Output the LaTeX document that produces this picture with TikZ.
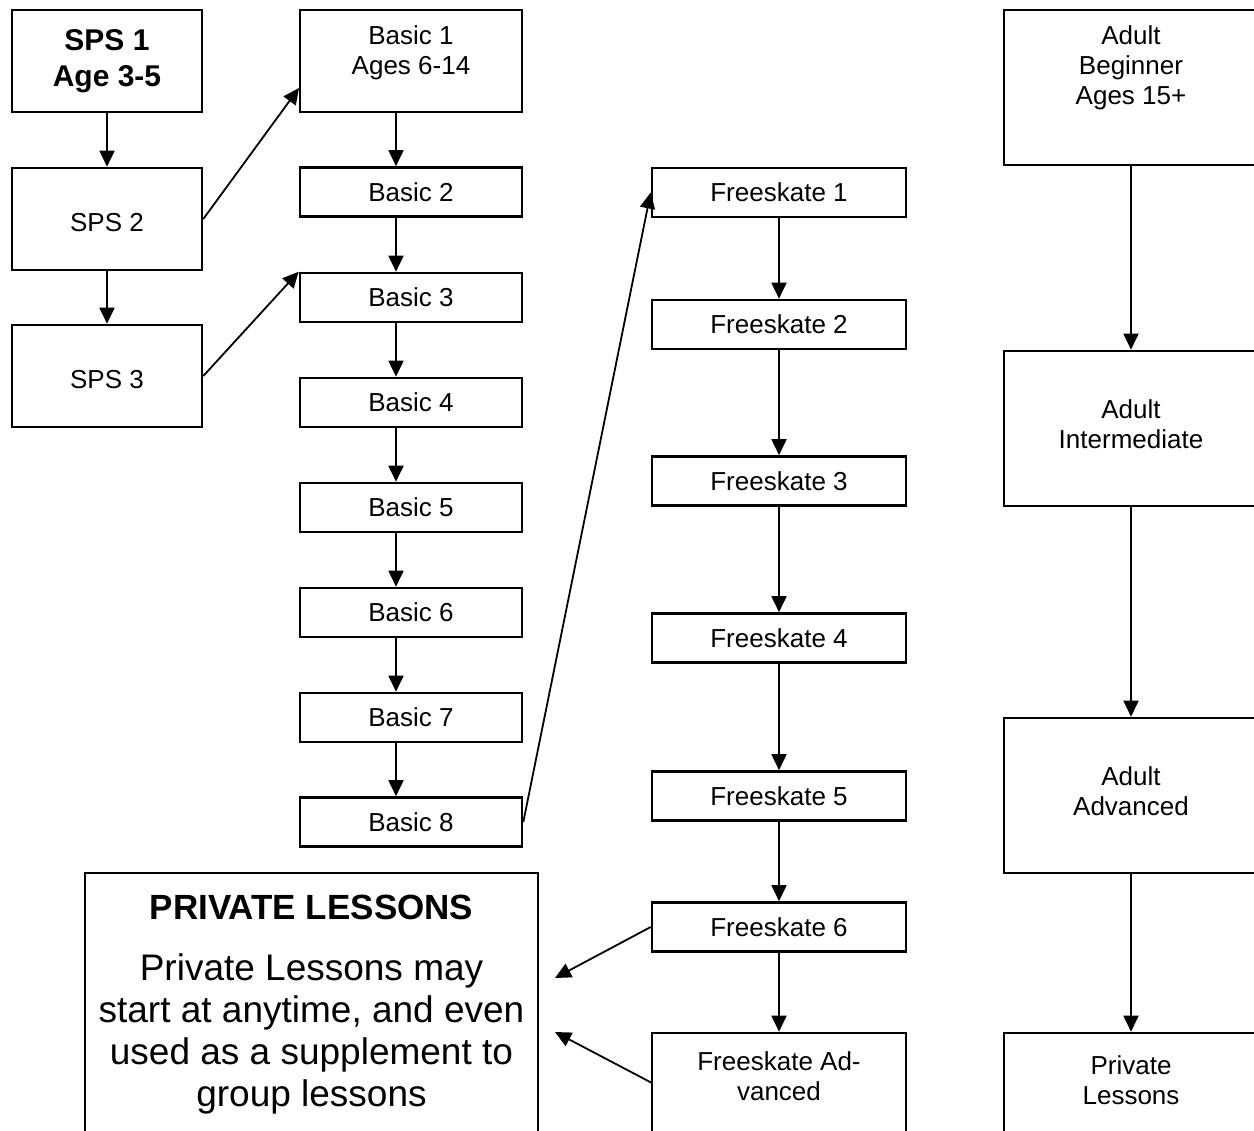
\documentclass[tikz,border=0pt]{standalone}
\usepackage{fontspec}
\setmainfont{Liberation Sans}
\usetikzlibrary{arrows.meta,calc}
\begin{document}
\begin{tikzpicture}[x=1pt,y=-1pt,
  box/.style={draw, line width=2.6pt, rectangle, inner sep=0pt},
  txt/.style={align=center, inner sep=0pt, font=\fontsize{26}{30}\selectfont},
  arr/.style={-{Triangle[length=16pt,width=15pt]}, line width=1.8pt}]
\useasboundingbox (0,0) rectangle (1254,1131);
\clip (0,0) rectangle (1254,1131);
% left column
\node[box, minimum width=190pt, minimum height=102pt] (sps1) at (107,61) {};
\node[txt, font=\fontsize{30}{36}\selectfont\bfseries] (sps1t) at (107,61) {SPS 1\\Age 3-5};
\node[box, minimum width=190pt, minimum height=102pt] (sps2) at (107,219) {};
\node[txt] (sps2t) at (107,223) {SPS 2};
\node[box, minimum width=190pt, minimum height=102pt] (sps3) at (107,376) {};
\node[txt] (sps3t) at (107,380) {SPS 3};
% basic column
\node[box, minimum width=222pt, minimum height=102pt] (b1) at (411,61) {};
\node[txt] (b1t) at (411,53) {Basic 1\\Ages 6-14};
\node[box, txt, minimum width=222pt, minimum height=49pt] (b2) at (411,192) {Basic 2};
\node[box, txt, minimum width=222pt, minimum height=49pt] (b3) at (411,297.5) {Basic 3};
\node[box, txt, minimum width=222pt, minimum height=49pt] (b4) at (411,402.5) {Basic 4};
\node[box, txt, minimum width=222pt, minimum height=49pt] (b5) at (411,507.5) {Basic 5};
\node[box, txt, minimum width=222pt, minimum height=49pt] (b6) at (411,612.5) {Basic 6};
\node[box, txt, minimum width=222pt, minimum height=49pt] (b7) at (411,717.5) {Basic 7};
\node[box, txt, minimum width=222pt, minimum height=49pt] (b8) at (411,822) {Basic 8};
% freeskate column
\node[box, txt, minimum width=254pt, minimum height=49pt] (f1) at (779,192.5) {Freeskate 1};
\node[box, txt, minimum width=254pt, minimum height=49pt] (f2) at (779,324.5) {Freeskate 2};
\node[box, txt, minimum width=254pt, minimum height=49pt] (f3) at (779,481) {Freeskate 3};
\node[box, txt, minimum width=254pt, minimum height=49pt] (f4) at (779,638) {Freeskate 4};
\node[box, txt, minimum width=254pt, minimum height=49pt] (f5) at (779,796) {Freeskate 5};
\node[box, txt, minimum width=254pt, minimum height=49pt] (f6) at (779,927) {Freeskate 6};
\node[box, minimum width=254pt, minimum height=155pt] (fa) at (779,1110.5) {};
\node[txt] (fat) at (779,1076) {Freeskate Ad-\\vanced};
% adult column
\node[box, minimum width=254pt, minimum height=155pt] (a1) at (1131,87.5) {};
\node[txt] (a1t) at (1131,68) {Adult\\Beginner\\Ages 15+};
\node[box, minimum width=254pt, minimum height=155pt] (a2) at (1131,428.5) {};
\node[txt] (a2t) at (1131,424) {Adult\\Intermediate};
\node[box, minimum width=254pt, minimum height=155pt] (a3) at (1131,795.5) {};
\node[txt] (a3t) at (1131,791) {Adult\\Advanced};
\node[box, minimum width=254pt, minimum height=155pt] (a4) at (1131,1110.5) {};
\node[txt] (a4t) at (1131,1080) {Private\\Lessons};
% private lessons box
\node[box, minimum width=453pt, minimum height=300pt] (pl) at (311.5,1023) {};
\node[inner sep=0pt, font=\fontsize{35}{40}\selectfont\bfseries] (plt) at (311.5,907) {PRIVATE LESSONS};
\node[txt, font=\fontsize{37}{42}\selectfont] (plb) at (311.5,1034) {Private Lessons may\\start at anytime, and even\\used as a supplement to\\group lessons};
% free ends
\coordinate (b1in) at (299,88);
\coordinate (pin1) at (555,978);
\coordinate (pin2) at (555,1032);
\coordinate (faout) at (652,1083);
% arrows
\draw[arr] (sps1.south) -- (sps2.north);
\draw[arr] (sps2.south) -- (sps3.north);
\draw[arr] (sps2.east) -- (b1in);
\draw[arr] (sps3.east) -- (b3.north west);
\draw[arr] ([xshift=-15pt]b1.south) -- ([xshift=-15pt]b2.north);
\draw[arr] ([xshift=-15pt]b2.south) -- ([xshift=-15pt]b3.north);
\draw[arr] ([xshift=-15pt]b3.south) -- ([xshift=-15pt]b4.north);
\draw[arr] ([xshift=-15pt]b4.south) -- ([xshift=-15pt]b5.north);
\draw[arr] ([xshift=-15pt]b5.south) -- ([xshift=-15pt]b6.north);
\draw[arr] ([xshift=-15pt]b6.south) -- ([xshift=-15pt]b7.north);
\draw[arr] ([xshift=-15pt]b7.south) -- ([xshift=-15pt]b8.north);
\draw[arr] (b8.east) -- (f1.west);
\draw[arr] (f1.south) -- (f2.north);
\draw[arr] (f2.south) -- (f3.north);
\draw[arr] (f3.south) -- (f4.north);
\draw[arr] (f4.south) -- (f5.north);
\draw[arr] (f5.south) -- (f6.north);
\draw[arr] (f6.south) -- (fa.north);
\draw[arr] (f6.west) -- (pin1);
\draw[arr] (faout) -- (pin2);
\draw[arr] (a1.south) -- (a2.north);
\draw[arr] (a2.south) -- (a3.north);
\draw[arr] (a3.south) -- (a4.north);
\end{tikzpicture}
\end{document}
